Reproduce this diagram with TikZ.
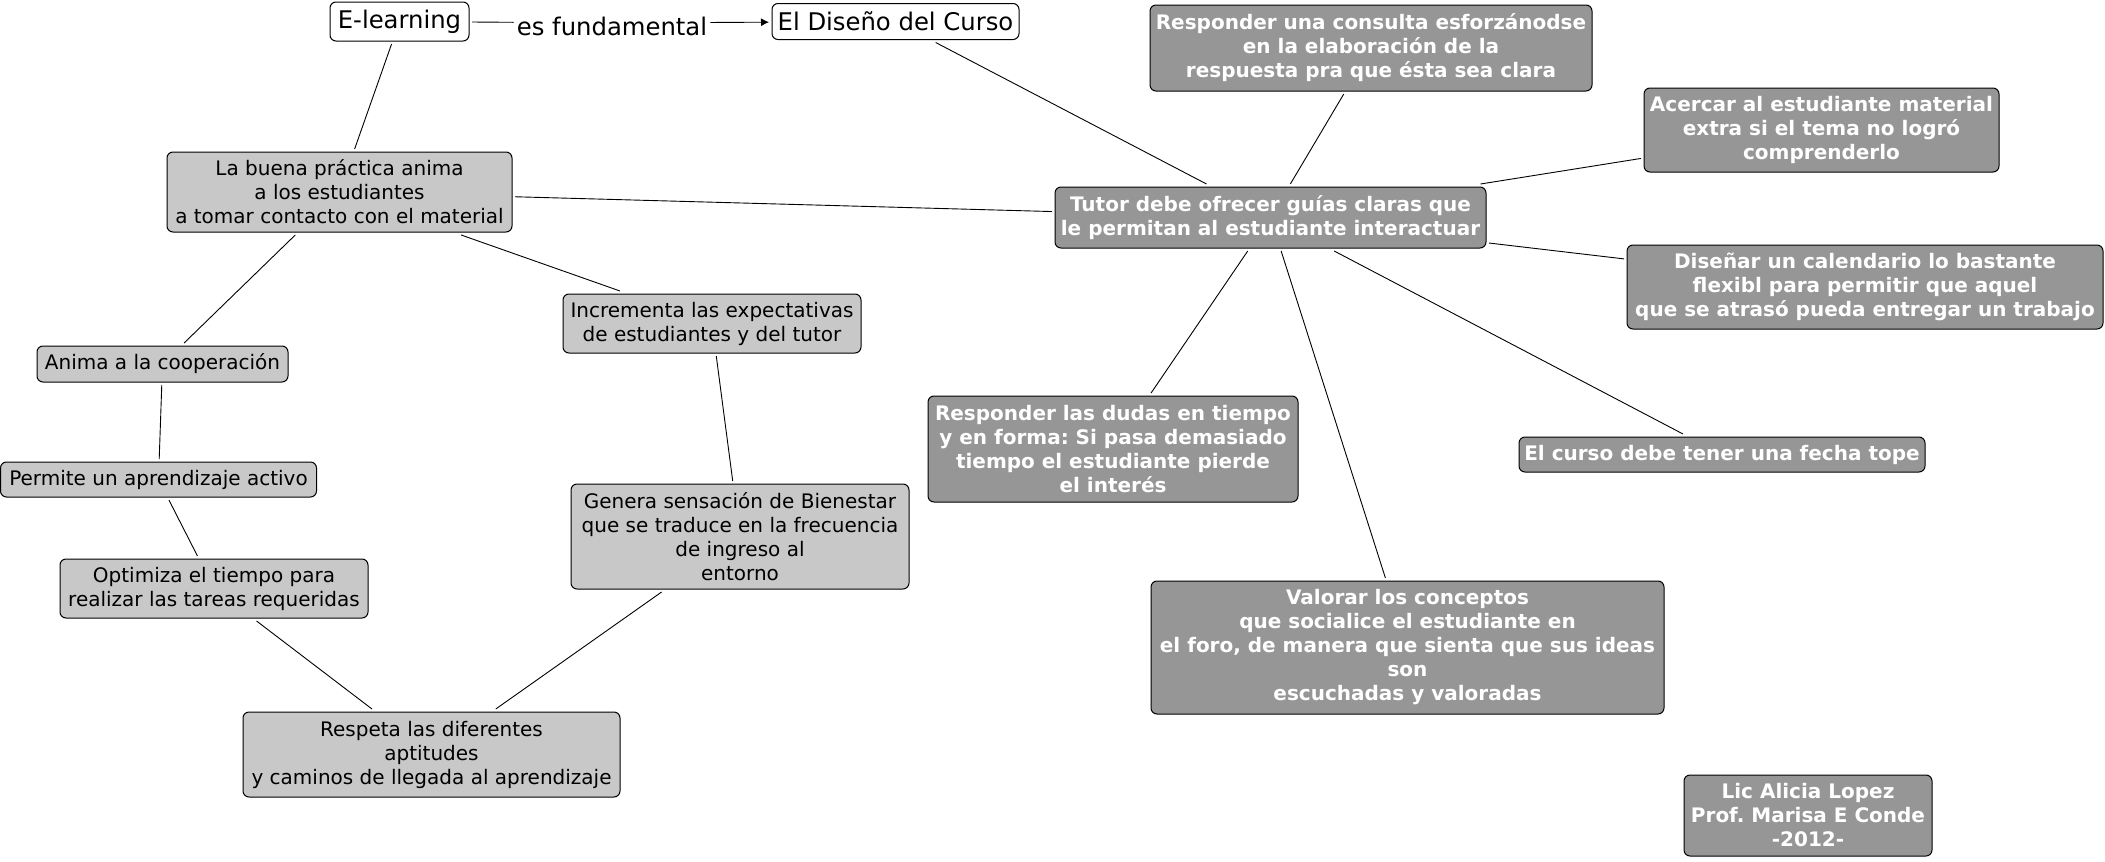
\documentclass[tikz,border=0pt]{standalone}
\usepackage{fontspec}
\setmainfont{DejaVu Sans}
\usetikzlibrary{arrows.meta}
\frenchspacing
\definecolor{lightbox}{RGB}{200,200,200}
\definecolor{darkbox}{RGB}{150,150,150}
\tikzset{
  box/.style={draw=black, line width=1pt, rounded corners=6pt, align=center, inner sep=0pt, outer sep=3pt},
  light/.style={box, fill=lightbox, font=\fontsize{20}{24}\selectfont},
  dark/.style={box, fill=darkbox, text=white, font=\fontsize{20}{24}\selectfont\bfseries},
  topbox/.style={box, fill=white, font=\fontsize{24.3}{28}\selectfont},
  link/.style={draw=black, line width=0.9pt},
}
\begin{document}
\begin{tikzpicture}[x=1pt,y=-1pt]
\useasboundingbox (0,0) rectangle (2105,862);

\node[topbox, minimum width=139, minimum height=39] (elearn) at (399.5,21.5) {E-learning};
\node[topbox, minimum width=247, minimum height=36] (diseno) at (895.5,21.5) {El Diseño del Curso};
\node[font=\fontsize{24.3}{28}\selectfont, inner sep=3pt] (lbl) at (612,23) {\raisebox{-13pt}[9pt][9pt]{es fundamental}};

\node[light, minimum width=345, minimum height=80] (buena) at (339.5,192) {La buena práctica anima\\a los estudiantes\\a tomar contacto con el material};
\node[light, minimum width=298, minimum height=59] (increm) at (712,323.5) {Incrementa las expectativas\\de estudiantes y del tutor};
\node[light, minimum width=251, minimum height=36] (anima) at (162.5,364) {Anima a la cooperación};
\node[light, minimum width=316, minimum height=35] (permite) at (158.5,479.5) {Permite un aprendizaje activo};
\node[light, minimum width=308, minimum height=59] (optimiza) at (214,588.5) {Optimiza el tiempo para\\realizar las tareas requeridas};
\node[light, minimum width=338, minimum height=105] (genera) at (740,536.5) {Genera sensación de Bienestar\\que se traduce en la frecuencia\\de ingreso al\\entorno};
\node[light, minimum width=377, minimum height=85] (respeta) at (431.5,754.5) {Respeta las diferentes\\aptitudes\\y caminos de llegada al aprendizaje};

\node[dark, minimum width=431, minimum height=61] (tutor) at (1270.5,217.5) {Tutor debe ofrecer guías claras que\\le permitan al estudiante interactuar};
\node[dark, minimum width=442, minimum height=86] (resp1) at (1371,48) {Responder una consulta esforzánodse\\en la elaboración de la\\respuesta pra que ésta sea clara};
\node[dark, minimum width=355, minimum height=84] (acercar) at (1821.5,130) {Acercar al estudiante material\\extra si el tema no logró\\comprenderlo};
\node[dark, minimum width=476, minimum height=84] (disenar) at (1865,287) {Diseñar un calendario lo bastante\\flexibl para permitir que aquel\\que se atrasó pueda entregar un trabajo};
\node[dark, minimum width=370, minimum height=106] (dudas) at (1113,449) {Responder las dudas en tiempo\\y en forma: Si pasa demasiado\\tiempo el estudiante pierde\\el interés};
\node[dark, minimum width=406, minimum height=35] (curso) at (1722,454.5) {El curso debe tener una fecha tope};
\node[dark, minimum width=513, minimum height=133] (valorar) at (1407.5,647.5) {Valorar los conceptos\\que socialice el estudiante en\\el foro, de manera que sienta que sus ideas\\son\\escuchadas y valoradas};
\node[dark, minimum width=248, minimum height=81] (lic) at (1808,815.5) {Lic Alicia Lopez\\Prof. Marisa E Conde\\-2012-};

\draw[link] (elearn) -- (lbl);
\draw[link, -{Latex[length=8pt,width=8pt]}] (lbl) -- (diseno);
\draw[link] (elearn) -- (buena);
\draw[link] (buena) -- (anima);
\draw[link] (buena) -- (increm);
\draw[link] (buena) -- (tutor);
\draw[link] (anima) -- (permite);
\draw[link] (permite) -- (optimiza);
\draw[link] (optimiza) -- (respeta);
\draw[link] (increm) -- (genera);
\draw[link] (genera) -- (respeta);
\draw[link] (diseno) -- (tutor);
\draw[link] (tutor) -- (resp1);
\draw[link] (tutor) -- (acercar);
\draw[link] (tutor) -- (disenar);
\draw[link] (tutor) -- (dudas);
\draw[link] (tutor) -- (valorar);
\draw[link] (tutor) -- (curso);
\end{tikzpicture}
\end{document}
